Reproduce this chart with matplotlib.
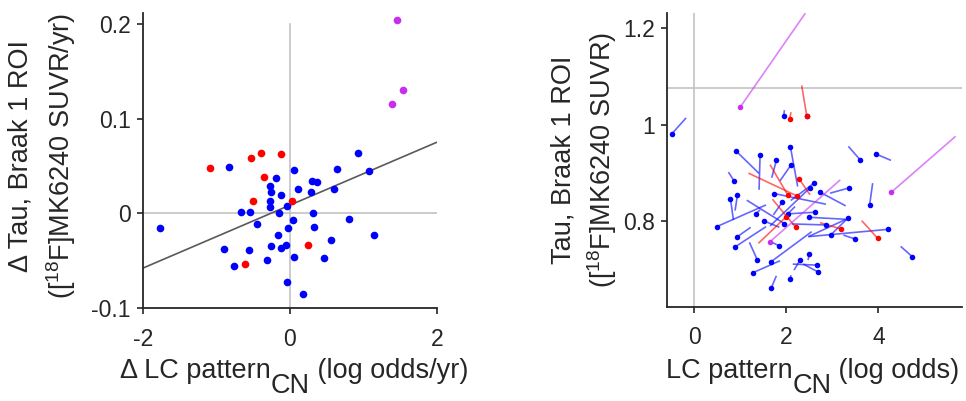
import matplotlib
matplotlib.use('Agg')
import matplotlib.pyplot as plt
import matplotlib.transforms as mtransforms

plt.rcParams.update({
    'font.family': ['Liberation Sans', 'DejaVu Sans'],
    'mathtext.fontset': 'custom',
    'mathtext.rm': 'Liberation Sans',
    'mathtext.it': 'Liberation Sans:italic',
    'mathtext.bf': 'Liberation Sans:bold',
    'mathtext.default': 'regular',
    'axes.unicode_minus': False,
})

# ---------------- data: left panel (change per year) ----------------
blue_dx = [-1.773, -0.832, -0.191, 0.059, -0.273, -0.259, -0.127, 0.109, 0.295, 0.364,
           0.282, 0.641, 0.923, 1.073, 0.605, -0.277, -0.273, -0.041, -0.659, -0.541,
           -0.145, 0.318, 0.045, 0.805, -0.445, -0.032, 0.332, -0.159, 1.141, 0.555,
           -0.895, -0.559, -0.250, -0.114, -0.059, -0.305, 0.059, 0.464, -0.755, -0.036,
           0.177]
blue_dy = [-0.0154, 0.0488, 0.0375, 0.0453, 0.0291, 0.0228, 0.0193, 0.0260, 0.0337, 0.0330,
           0.0225, 0.0467, 0.0632, 0.0446, 0.0260, 0.0130, 0.0063, 0.0077, 0.0011, 0.0011,
           0.0004, 0.0007, -0.0067, -0.0063, -0.0112, -0.0151, -0.0144, -0.0228, -0.0232, -0.0281,
           -0.0379, -0.0382, -0.0344, -0.0365, -0.0337, -0.0488, -0.0460, -0.0470, -0.0554, -0.0723,
           -0.0846]
red_dx = [-1.086, -0.523, -0.391, -0.114, -0.355, -0.505, 0.023, 0.250, -0.609]
red_dy = [0.0477, 0.0582, 0.0642, 0.0628, 0.0382, 0.0133, 0.0133, -0.0337, -0.0537]
purple_dx = [1.455, 1.545, 1.395]
purple_dy = [0.2035, 0.1298, 0.1158]
fit_x = [-2.0, 2.0]
fit_y = [-0.0576, 0.0750]

# ---------------- data: right panel (baseline dot -> follow-up end) ----------------
blue_x0 = [-0.493, 1.942, 2.449, 0.906, 1.428, 1.783, 2.087, 2.094, 0.862, 3.609,
           3.949, 3.812, 4.739, 4.217, 3.348, 2.964, 3.493, 2.601, 2.507, 3.370,
           2.732, 1.732, 0.783, 0.935, 1.913, 1.333, 1.957, 2.623, 2.500, 2.855,
           0.486, 0.935, 0.891, 1.841, 1.370, 1.667, 1.268, 1.674, 2.080, 2.297,
           2.500, 2.659, 2.681, 1.514, 2.029]
blue_y0 = [0.9806, 1.0188, 1.0174, 0.9451, 0.9361, 0.9257, 0.9542, 0.9153, 0.8833, 0.9264,
           0.9389, 0.8340, 0.7257, 0.7826, 0.8056, 0.7708, 0.7625, 0.8785, 0.8681, 0.8688,
           0.8597, 0.8569, 0.8465, 0.8535, 0.8396, 0.8146, 0.7944, 0.8181, 0.8076, 0.7917,
           0.7882, 0.7674, 0.7465, 0.7486, 0.7188, 0.7153, 0.6924, 0.6618, 0.6792, 0.7188,
           0.7313, 0.7083, 0.6944, 0.8000, 0.8146]
blue_x1 = [-0.181, 1.957, 2.449, 1.406, 1.406, 1.681, 2.246, 1.862, 0.739, 3.348,
           4.275, 3.877, 4.486, 2.478, 2.478, 3.312, 3.239, 2.094, 1.645, 2.949,
           3.290, 2.862, 0.848, 0.884, 1.717, 1.428, 1.138, 2.007, 3.275, 2.116,
           1.558, 1.225, 1.558, 1.681, 1.196, 2.551, 1.862, 1.783, 2.101, 2.167,
           2.471, 2.138, 2.370, 1.848, 2.188]
blue_y1 = [1.0139, 1.0299, 1.0215, 0.8986, 0.8646, 0.8896, 0.8715, 0.8833, 0.9014, 0.9549,
           0.9257, 0.8785, 0.7472, 0.7674, 0.7674, 0.8035, 0.7708, 0.8424, 0.7896, 0.8576,
           0.8313, 0.8347, 0.8021, 0.8215, 0.8125, 0.8229, 0.8431, 0.8146, 0.8035, 0.7938,
           0.8333, 0.7868, 0.7882, 0.7556, 0.7556, 0.7778, 0.7174, 0.6861, 0.6875, 0.6979,
           0.7188, 0.7104, 0.7104, 0.7868, 0.8299]
red_x0 = [2.072, 2.442, 2.225, 2.029, 2.275, 1.986, 2.203, 3.188, 3.986]
red_y0 = [1.0125, 1.0188, 0.8521, 0.8542, 0.8875, 0.8076, 0.7868, 0.7833, 0.7639]
red_x1 = [2.101, 2.333, 1.174, 1.645, 2.514, 1.391, 1.696, 2.732, 3.638]
red_y1 = [1.0257, 1.0813, 0.8993, 0.9167, 0.8542, 0.7535, 0.8451, 0.7965, 0.8007]
purple_x0 = [1.000, 4.283, 1.645]
purple_y0 = [1.0368, 0.8597, 0.7569]
purple_x1 = [2.413, 5.681, 3.174]
purple_y1 = [1.2313, 0.9757, 0.8854]
ref_x = 0.0
ref_y = 1.0756

# ---------------- styles ----------------
BLUE = '#0000ff'
RED = '#ff0000'
PURPLE = '#c62ff2'
GRAY = '#bdbdbd'
DARK = '#262626'
W, H = 966, 401
TFS = 16.5  # tick label size
LFS = 19.5  # axis label size

fig = plt.figure(figsize=(W / 100, H / 100), dpi=100)


def rect(l, t, r, b):
    return [l / W, 1 - b / H, (r - l) / W, (b - t) / H]


ax1 = fig.add_axes(rect(143, 13.3, 436.7, 308.3))
ax2 = fig.add_axes(rect(667.3, 13.3, 962, 306.7))

for ax in (ax1, ax2):
    ax.spines['top'].set_visible(False)
    ax.spines['right'].set_visible(False)
    for s in ('left', 'bottom'):
        ax.spines[s].set_color(DARK)
        ax.spines[s].set_linewidth(1.3)
    ax.tick_params(direction='out', length=4, width=1.2, colors=DARK, labelsize=TFS)
    ax.tick_params(axis='x', pad=10)
    ax.tick_params(axis='y', pad=5)

# left panel
ax1.plot([0, 0], [-0.1, 0.2], color=GRAY, lw=1.1, zorder=1)
ax1.plot([-2, 2], [0, 0], color=GRAY, lw=1.1, zorder=1)
ax1.plot(fit_x, fit_y, color='#595959', lw=1.2, zorder=2)
ms1 = 5.5
ax1.plot(blue_dx, blue_dy, 'o', color=BLUE, ms=ms1, mew=0, zorder=3)
ax1.plot(red_dx, red_dy, 'o', color=RED, ms=ms1, mew=0, zorder=4)
ax1.plot(purple_dx, purple_dy, 'o', color=PURPLE, ms=ms1, mew=0, zorder=4)
ax1.set_xlim(-2, 2)
ax1.set_ylim(-0.1, 0.211)
ax1.set_xticks([-2, 0, 2])
ax1.set_xticklabels(['-2', '0', '2'])
ax1.set_yticks([-0.1, 0, 0.1, 0.2])
ax1.set_yticklabels(['-0.1', '0', '0.1', '0.2'])

# right panel
ax2.axvline(ref_x, color=GRAY, lw=1.1, zorder=1)
ax2.axhline(ref_y, color=GRAY, lw=1.1, zorder=1)
for xs0, ys0, xs1, ys1, c in ((blue_x0, blue_y0, blue_x1, blue_y1, BLUE),
                              (red_x0, red_y0, red_x1, red_y1, RED),
                              (purple_x0, purple_y0, purple_x1, purple_y1, PURPLE)):
    for a, b, cc, d in zip(xs0, ys0, xs1, ys1):
        ax2.plot([a, cc], [b, d], color=c, alpha=0.6, lw=1.2, zorder=2,
                 solid_capstyle='butt')
ms2 = 4.0
ax2.plot(blue_x0, blue_y0, 'o', color=BLUE, ms=ms2, mew=0, zorder=3)
ax2.plot(red_x0, red_y0, 'o', color=RED, ms=ms2, mew=0, zorder=4)
ax2.plot(purple_x0, purple_y0, 'o', color=PURPLE, ms=ms2, mew=0, zorder=4)
ax2.set_xlim(-0.59, 5.82)
ax2.set_ylim(0.622, 1.231)
ax2.set_xticks([0, 2, 4])
ax2.set_yticks([0.8, 1.0, 1.2])
ax2.set_yticklabels(['0.8', '1', '1.2'])

# labels
ident = mtransforms.IdentityTransform()
fig.text(21, H - 156, 'Δ Tau, Braak 1 ROI', rotation=90, ha='center', va='center',
         fontsize=LFS, color=DARK, transform=ident)
fig.text(61, H - 156, '([$^{18}$F]MK6240 SUVR/yr)', rotation=90, ha='center', va='center',
         fontsize=LFS, color=DARK, transform=ident)
fig.text(563, H - 160, 'Tau, Braak 1 ROI', rotation=90, ha='center', va='center',
         fontsize=LFS, color=DARK, transform=ident)
fig.text(602, H - 160, '([$^{18}$F]MK6240 SUVR)', rotation=90, ha='center', va='center',
         fontsize=LFS, color=DARK, transform=ident)

renderer = fig.canvas.get_renderer()


def composed_xlabel(parts, center_px, baseline_px, sub_drop=15):
    texts = []
    widths = []
    for s, is_sub in parts:
        t = fig.text(0, 0, s, fontsize=LFS, color=DARK, ha='left', va='baseline',
                     transform=ident)
        texts.append((t, is_sub))
        widths.append(t.get_window_extent(renderer).width)
    x = center_px - sum(widths) / 2
    for (t, is_sub), w in zip(texts, widths):
        y = H - baseline_px - (sub_drop if is_sub else 0)
        t.set_position((x, y))
        x += w


composed_xlabel([('Δ LC pattern', False), ('CN', True), (' (log odds/yr)', False)],
                (143 + 436.7) / 2 + 4, 378)
composed_xlabel([('LC pattern', False), ('CN', True), (' (log odds)', False)],
                (667.3 + 962) / 2 - 2, 378)

fig.savefig('out.png', dpi=100)
